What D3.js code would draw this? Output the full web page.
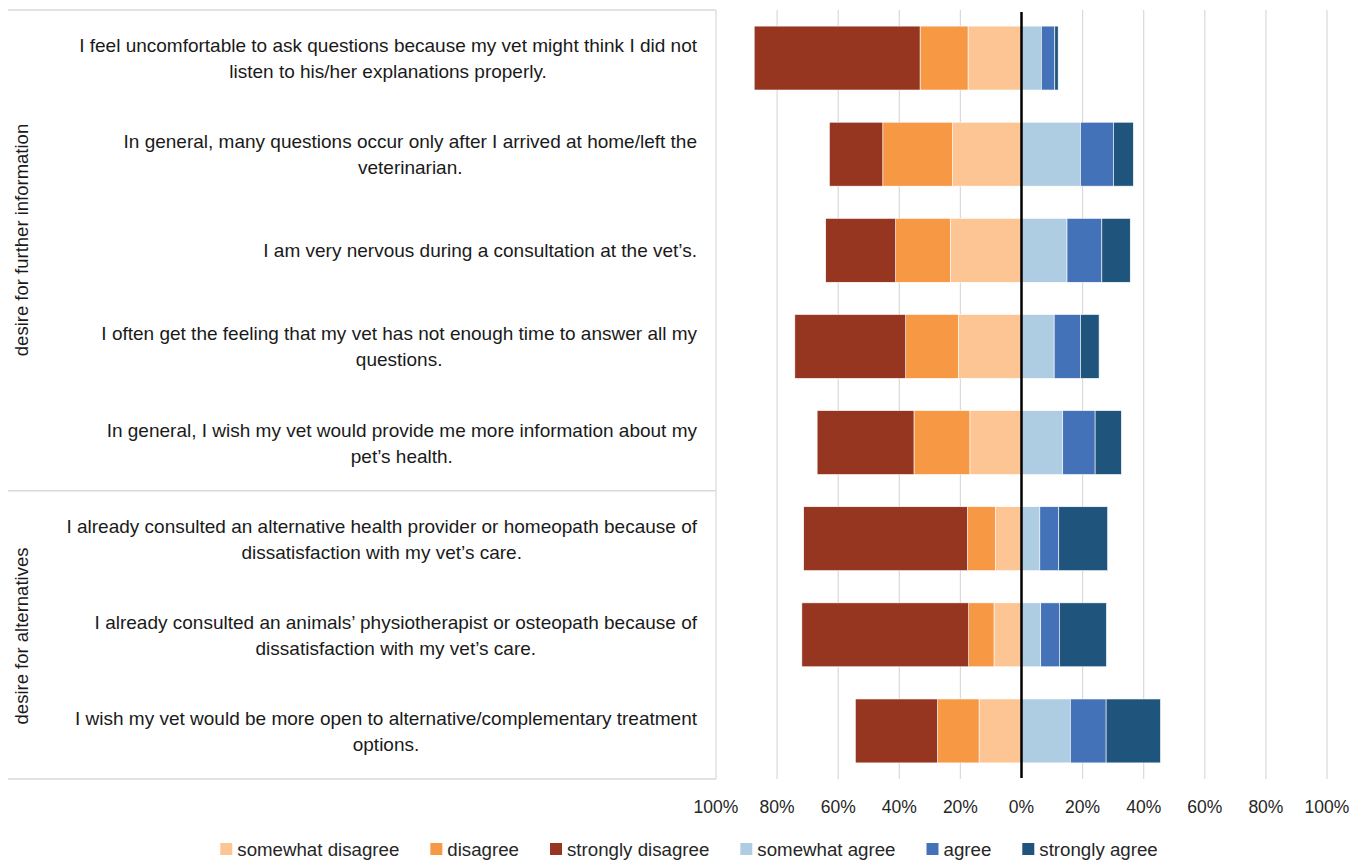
<!DOCTYPE html>
<html>
<head>
<meta charset="utf-8">
<script src="https://cdn.jsdelivr.net/npm/d3@7"></script>
<style>
  body { margin: 0; background: #fff; }
  text { font-family: "Liberation Sans", Arial, sans-serif; }
</style>
</head>
<body>
<svg id="chart" width="1365" height="862"></svg>
<script>
// statements, each split into the lines shown in the chart
const categories = [
  ["I feel uncomfortable to ask questions because my vet might think I did not", "listen to his/her explanations properly."],
  ["In general, many questions occur only after I arrived at home/left the", "veterinarian."],
  ["I am very nervous during a consultation at the vet\u2019s."],
  ["I often get the feeling that my vet has not enough time to answer all my", "questions."],
  ["In general, I wish my vet would provide me more information about my", "pet\u2019s health."],
  ["I already consulted an alternative health provider or homeopath because of", "dissatisfaction with my vet\u2019s care."],
  ["I already consulted an animals\u2019 physiotherapist or osteopath because of", "dissatisfaction with my vet\u2019s care."],
  ["I wish my vet would be more open to alternative/complementary treatment", "options."]
];

const groups = ["desire for further information", "desire for alternatives"];
const groupSizes = [5, 3];

// percentages
const somewhatDisagree = [17.5, 22.6, 23.3, 20.7, 16.9, 8.5, 9.0, 13.9];
const disagree         = [15.7, 22.8, 17.9, 17.2, 18.3, 9.2, 8.3, 13.6];
const stronglyDisagree = [54.3, 17.5, 22.9, 36.3, 31.7, 53.6, 54.6, 26.9];
const somewhatAgree    = [6.5, 19.3, 14.9, 10.7, 13.5, 6.0, 6.3, 16.0];
const agree            = [4.4, 10.8, 11.4, 8.6, 10.6, 6.2, 6.1, 11.7];
const stronglyAgree    = [1.1, 6.5, 9.3, 6.1, 8.6, 16.0, 15.4, 17.8];

const tickValues = [-100, -80, -60, -40, -20, 0, 20, 40, 60, 80, 100];

const leftSeries = [
  { name: "somewhat disagree", values: somewhatDisagree, color: "#fdc593" },
  { name: "disagree", values: disagree, color: "#f79845" },
  { name: "strongly disagree", values: stronglyDisagree, color: "#973620" }
];
const rightSeries = [
  { name: "somewhat agree", values: somewhatAgree, color: "#aecde3" },
  { name: "agree", values: agree, color: "#4472b8" },
  { name: "strongly agree", values: stronglyAgree, color: "#1f557d" }
];

const svg = d3.select("#chart");
const plotTop = 10, plotBottom = 779;
const boxLeft = 8;

const x = d3.scaleLinear().domain([-100, 100]).range([716, 1327]);
const y = d3.scaleBand()
  .domain(d3.range(categories.length))
  .range([plotTop, plotBottom])
  .paddingInner(0.335)
  .paddingOuter(0.1675);

// gridlines
svg.append("g").selectAll("line")
  .data(tickValues.filter(d => d !== 0))
  .join("line")
  .attr("x1", d => x(d)).attr("x2", d => x(d))
  .attr("y1", plotTop).attr("y2", plotBottom)
  .attr("stroke", "#d9d9d9").attr("stroke-width", 1.2);

// group box lines on the left
let bounds = [0];
groupSizes.forEach(n => bounds.push(bounds[bounds.length - 1] + n));
const boundY = i => plotTop + i * y.step();
svg.append("g").selectAll("line")
  .data(bounds)
  .join("line")
  .attr("x1", boxLeft).attr("x2", x(-100))
  .attr("y1", d => boundY(d)).attr("y2", d => boundY(d))
  .attr("stroke", "#d9d9d9").attr("stroke-width", 1.5);

// stacked bars
const drawSide = (series, sign) => {
  const offsets = categories.map(() => 0);
  series.forEach(s => {
    svg.append("g").selectAll("rect")
      .data(s.values)
      .join("rect")
      .attr("x", (d, i) => sign < 0 ? x(-(offsets[i] + d)) : x(offsets[i]))
      .attr("width", d => x(d) - x(0))
      .attr("y", (d, i) => y(i))
      .attr("height", y.bandwidth())
      .attr("fill", s.color)
      .attr("stroke", "#fff").attr("stroke-width", 0.6)
      .each((d, i) => { offsets[i] += d; });
  });
};
drawSide(leftSeries, -1);
drawSide(rightSeries, 1);

// zero line
svg.append("line")
  .attr("x1", x(0)).attr("x2", x(0))
  .attr("y1", plotTop + 2).attr("y2", plotBottom - 1)
  .attr("stroke", "#000").attr("stroke-width", 2.5);

// x axis labels
svg.append("g").selectAll("text")
  .data(tickValues)
  .join("text")
  .attr("x", d => x(d))
  .attr("y", 813)
  .attr("text-anchor", "middle")
  .attr("font-size", 17.5)
  .attr("fill", "#262626")
  .text(d => Math.abs(d) + "%");

// category labels: block right aligned, lines centered in block
const labelRight = 697;
categories.forEach((lines, i) => {
  const g = svg.append("g");
  const cy = y(i) + y.bandwidth() / 2;
  const lh = 26;
  const t = g.selectAll("text")
    .data(lines)
    .join("text")
    .attr("y", (d, j) => cy + (j - (lines.length - 1) / 2) * lh + 7)
    .attr("text-anchor", "middle")
    .attr("font-size", 19)
    .attr("fill", "#1a1a1a")
    .text(d => d);
  const w = d3.max(t.nodes(), n => n.getComputedTextLength());
  t.attr("x", labelRight - w / 2);
});

// group labels, rotated
const groupCenters = [240, 636];
groups.forEach((name, i) => {
  svg.append("text")
    .attr("transform", `translate(28,${groupCenters[i]}) rotate(-90)`)
    .attr("text-anchor", "middle")
    .attr("font-family", "'DejaVu Sans', sans-serif")
    .attr("font-size", 18.5)
    .attr("fill", "#1a1a1a")
    .text(name);
});

// legend
const legendItems = leftSeries.concat(rightSeries);
const legend = svg.append("g");
let lx = 0;
legendItems.forEach(s => {
  const item = legend.append("g").attr("transform", `translate(${lx},0)`);
  item.append("rect").attr("x", 0).attr("y", -6).attr("width", 12).attr("height", 12).attr("fill", s.color);
  const t = item.append("text")
    .attr("x", 17).attr("y", 7)
    .attr("font-size", 18.7)
    .attr("fill", "#262626")
    .text(s.name);
  lx += 17 + t.node().getComputedTextLength() + 31;
});
lx -= 31;
legend.attr("transform", `translate(${689 - lx / 2},849)`);
</script>
</body>
</html>
